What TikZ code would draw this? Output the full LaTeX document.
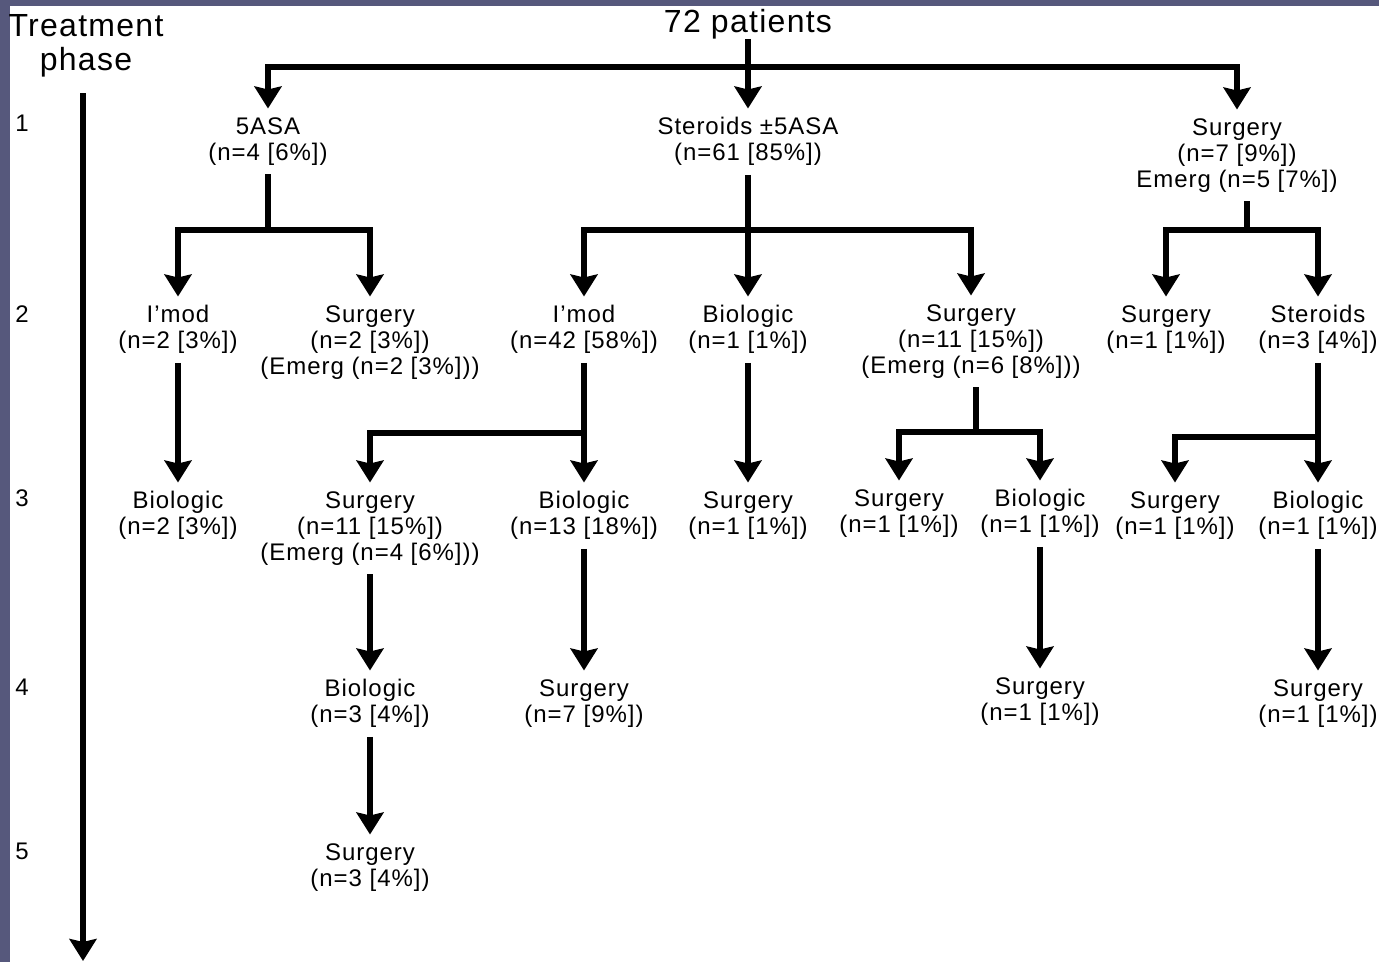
\documentclass[tikz,border=0pt]{standalone}
\usepackage{fontspec}
\setmainfont{Liberation Sans}[LetterSpace=4]
\usetikzlibrary{arrows.meta}
\definecolor{framecol}{RGB}{86,88,124}
\begin{document}
\begin{tikzpicture}[x=1pt,y=-1pt,
  lbl/.style={font=\fontsize{24}{26}\selectfont, align=center, inner sep=0pt, outer xsep=0pt, outer ysep=9pt, anchor=north},
  big/.style={font=\fontsize{32}{34}\selectfont, align=center, inner sep=0pt},
  phasenum/.style={font=\fontsize{24}{26}\selectfont, inner sep=0pt, anchor=base},
  conn/.style={line width=5.5pt, black},
  arr/.style={conn, -{Stealth[length=22pt,width=27pt,inset=3pt]}}]
\useasboundingbox (0,0) rectangle (1379,962);
\fill[framecol] (0,0) rectangle (1379,962);
\fill[white] (10,6) rectangle (1379,962);

% headings
\node[big, anchor=base] (top) at (748,32) {72 patients};
\node[big, anchor=north] (tp) at (86,14) {Treatment\\phase};

% phase axis
\coordinate (axtop) at (83,93);
\coordinate (axbot) at (83,961);
\draw[arr] (axtop) -- (axbot);
\node[phasenum] (ph1) at (22,131.5) {1};
\node[phasenum] (ph2) at (22,322.5) {2};
\node[phasenum] (ph3) at (22,506.5) {3};
\node[phasenum] (ph4) at (22,695.5) {4};
\node[phasenum] (ph5) at (22,859.5) {5};

% level 1
\node[lbl] (n5asa) at (268,108.5) {5ASA\\(n=4 [6\%])};
\node[lbl] (nster) at (748,108.5) {Steroids ±5ASA\\(n=61 [85\%])};
\node[lbl] (nsurg) at (1237,109.5) {Surgery\\(n=7 [9\%])\\Emerg (n=5 [7\%])};

% level 2
\node[lbl] (a2) at (178,296.5) {I’mod\\(n=2 [3\%])};
\node[lbl] (b2) at (370,296.5) {Surgery\\(n=2 [3\%])\\(Emerg (n=2 [3\%]))};
\node[lbl] (c2) at (584,296.5) {I’mod\\(n=42 [58\%])};
\node[lbl] (d2) at (748,296.5) {Biologic\\(n=1 [1\%])};
\node[lbl] (e2) at (971,295.5) {Surgery\\(n=11 [15\%])\\(Emerg (n=6 [8\%]))};
\node[lbl] (f2) at (1166,296.5) {Surgery\\(n=1 [1\%])};
\node[lbl] (g2) at (1318,296.5) {Steroids\\(n=3 [4\%])};

% level 3
\node[lbl] (a3) at (178,482.5) {Biologic\\(n=2 [3\%])};
\node[lbl] (b3) at (370,482.5) {Surgery\\(n=11 [15\%])\\(Emerg (n=4 [6\%]))};
\node[lbl] (c3) at (584,482.5) {Biologic\\(n=13 [18\%])};
\node[lbl] (d3) at (748,482.5) {Surgery\\(n=1 [1\%])};
\node[lbl] (e3) at (899,480.5) {Surgery\\(n=1 [1\%])};
\node[lbl] (f3) at (1040,480.5) {Biologic\\(n=1 [1\%])};
\node[lbl] (g3) at (1175,482.5) {Surgery\\(n=1 [1\%])};
\node[lbl] (h3) at (1318,482.5) {Biologic\\(n=1 [1\%])};

% level 4
\node[lbl] (b4) at (370,670.5) {Biologic\\(n=3 [4\%])};
\node[lbl] (c4) at (584,670.5) {Surgery\\(n=7 [9\%])};
\node[lbl] (f4) at (1040,668.5) {Surgery\\(n=1 [1\%])};
\node[lbl] (h4) at (1318,670.5) {Surgery\\(n=1 [1\%])};

% level 5
\node[lbl] (b5) at (370,834.5) {Surgery\\(n=3 [4\%])};

% junctions
\coordinate (j0) at (748,67);
\coordinate (j1) at (268,230);
\coordinate (j2) at (748,230);
\coordinate (j3) at (1247,230);
\coordinate (j4) at (584,433);
\coordinate (j5) at (976,432);
\coordinate (j6) at (1318,437);

% connectors from 72 patients
\draw[arr] (top.south) -- (nster.north);
\draw[arr] (j0) -| (n5asa.north);
\draw[arr] (j0) -| (nsurg.north);

% 5ASA branch
\draw[conn] (n5asa.south) -- (j1);
\draw[arr] (j1) -| (a2.north);
\draw[arr] (j1) -| (b2.north);

% Steroids branch
\draw[arr] (nster.south) -- (d2.north);
\draw[arr] (j2) -| (c2.north);
\draw[arr] (j2) -| (e2.north);

% Surgery branch
\draw[conn] (nsurg.south -| j3) -- (j3);
\draw[arr] (j3) -| (f2.north);
\draw[arr] (j3) -| (g2.north);

% level 2 -> 3
\draw[arr] (a2.south) -- (a3.north);
\draw[arr] (c2.south) -- (c3.north);
\draw[arr] (j4) -| (b3.north);
\draw[arr] (d2.south) -- (d3.north);
\draw[conn] (e2.south -| j5) -- (j5);
\draw[arr] (j5) -| (e3.north);
\draw[arr] (j5) -| (f3.north);
\draw[arr] (g2.south) -- (h3.north);
\draw[arr] (j6) -| (g3.north);

% level 3 -> 4 -> 5
\draw[arr] (b3.south) -- (b4.north);
\draw[arr] (c3.south) -- (c4.north);
\draw[arr] (f3.south) -- (f4.north);
\draw[arr] (h3.south) -- (h4.north);
\draw[arr] (b4.south) -- (b5.north);
\end{tikzpicture}
\end{document}
